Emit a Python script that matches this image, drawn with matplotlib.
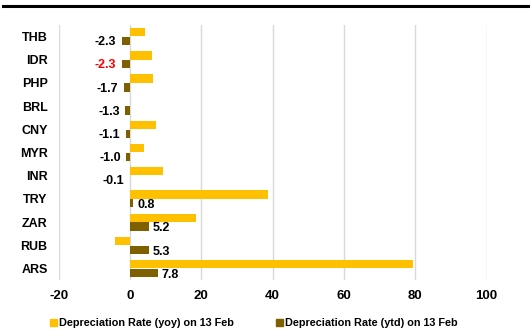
import matplotlib
matplotlib.use("Agg")
from matplotlib import pyplot as plt
from matplotlib.patches import Patch
import numpy as np

plt.rcParams['font.family'] = ['Liberation Sans', 'DejaVu Sans']
plt.rcParams['font.weight'] = 'bold'
plt.rcParams['axes.unicode_minus'] = False

# data
currencies = ['THB', 'IDR', 'PHP', 'BRL', 'CNY', 'MYR', 'INR', 'TRY', 'ZAR', 'RUB', 'ARS']
yoy = [4.2, 6.1, 6.5, 0.0, 7.3, 3.9, 9.2, 38.6, 18.4, -4.2, 79.4]
ytd = [-2.3, -2.3, -1.7, -1.3, -1.1, -1.0, -0.1, 0.8, 5.2, 5.3, 7.8]
ytd_labels = ['-2.3', '-2.3', '-1.7', '-1.3', '-1.1', '-1.0', '-0.1', '0.8', '5.2', '5.3', '7.8']
x_ticks = [-20, 0, 20, 40, 60, 80, 100]

yellow = '#FFC000'
brown = '#7F6000'

fig = plt.figure(figsize=(5.31, 3.33), dpi=100)
ax = fig.add_axes([0.1105, 0.159, 0.8059, 0.766])

pos = np.arange(len(currencies))
ax.barh(pos - 0.19, yoy, height=0.36, color=yellow, zorder=3)
ax.barh(pos + 0.19, ytd, height=0.36, color=brown, zorder=3)

# value labels on the ytd bars
for i, (v, lab) in enumerate(zip(ytd, ytd_labels)):
    col = 'red' if currencies[i] == 'IDR' else 'black'
    if v < 0:
        ax.annotate(lab, (v, pos[i] + 0.24), xytext=(-4, 0), textcoords='offset points',
                    ha='right', va='center', fontsize=9, fontweight='bold', color=col)
    else:
        ax.annotate(lab, (v, pos[i] + 0.27), xytext=(3, 0), textcoords='offset points',
                    ha='left', va='center', fontsize=9, fontweight='bold', color=col)

ax.set_xlim(-20, 100)
ax.set_ylim(len(currencies) - 0.5, -0.5)
ax.set_xticks(x_ticks)
ax.set_yticks(pos)
ax.set_yticklabels(currencies)
ax.tick_params(axis='x', length=0, pad=7, labelsize=9.5)
ax.tick_params(axis='y', length=0, pad=8, labelsize=9)
for lab in ax.get_xticklabels() + ax.get_yticklabels():
    lab.set_fontweight('bold')
ax.grid(axis='x', color='#D9D9D9', linewidth=1, zorder=0)
for s in ax.spines.values():
    s.set_visible(False)

# thick rule at the top of the figure
fig.add_artist(plt.Line2D([0.006, 0.995], [0.982, 0.982], color='black', linewidth=2.2))

handles = [Patch(color=yellow, label='Depreciation Rate (yoy) on 13 Feb'),
           Patch(color=brown, label='Depreciation Rate (ytd) on 13 Feb')]
fig.legend(handles=handles, loc='center', bbox_to_anchor=(0.478, 0.03), ncol=2, frameon=False,
           prop={'size': 7.8, 'weight': 'bold'}, handlelength=0.6, handleheight=0.6,
           handletextpad=0.2, columnspacing=3.9)

fig.savefig('out.png', dpi=100)
